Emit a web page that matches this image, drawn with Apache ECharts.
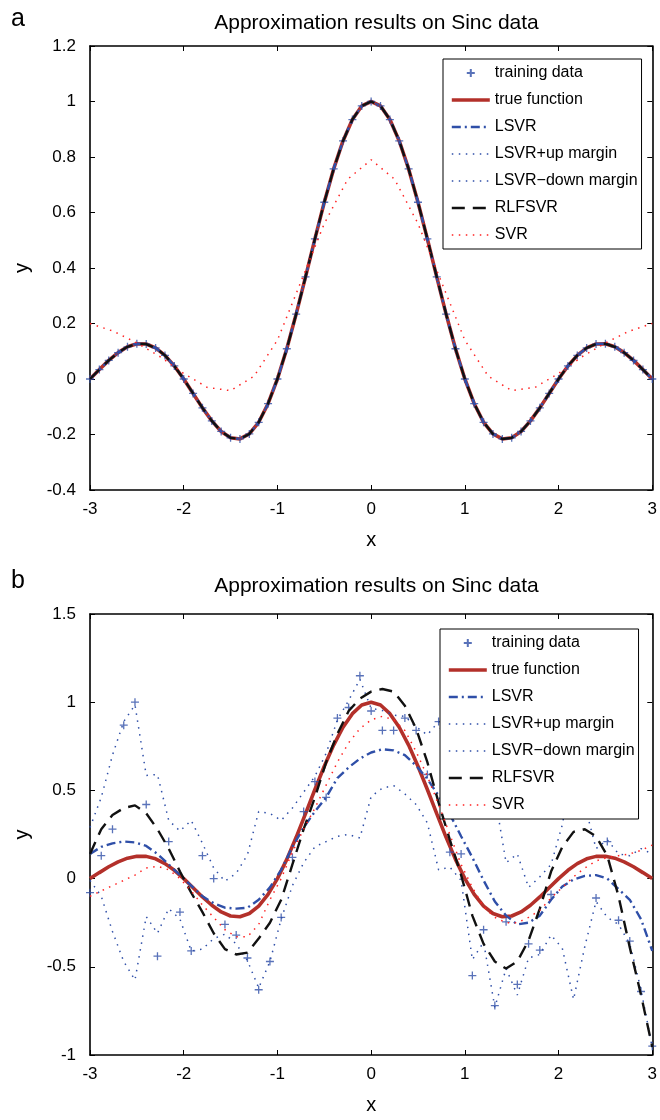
<!DOCTYPE html>
<html><head><meta charset="utf-8">
<script src="https://cdn.jsdelivr.net/npm/echarts@6/dist/echarts.min.js"></script>
<style>html,body{margin:0;padding:0;background:#fff;}#a,#b{width:660px;height:560px;}</style>
</head><body><div id="a"></div><div id="b"></div>
<script>
// ---------- data ----------
const xTicks = [-3, -2, -1, 0, 1, 2, 3];
const names = ['training data', 'true function', 'LSVR', 'LSVR+up margin', 'LSVR\u2212down margin', 'RLFSVR', 'SVR'];

// true function, sampled every 0.1 on [-3, 3]
const xA = [-3.0,-2.9,-2.8,-2.7,-2.6,-2.5,-2.4,-2.3,-2.2,-2.1,-2.0,-1.9,-1.8,-1.7,-1.6,-1.5,-1.4,-1.3,-1.2,-1.1,-1.0,-0.9,-0.8,-0.7,-0.6,-0.5,-0.4,-0.3,-0.2,-0.1,0.0,
  0.1,0.2,0.3,0.4,0.5,0.6,0.7,0.8,0.9,1.0,1.1,1.2,1.3,1.4,1.5,1.6,1.7,1.8,1.9,2.0,2.1,2.2,2.3,2.4,2.5,2.6,2.7,2.8,2.9,3.0];
const trueY = [0,0.034,0.067,0.095,0.116,0.127,0.126,0.112,0.085,0.047,0,-0.052,-0.104,-0.151,-0.189,-0.212,-0.216,-0.198,-0.156,-0.089,0,0.109,0.234,0.368,0.505,0.637,0.757,0.858,0.935,0.984,1,
  0.984,0.935,0.858,0.757,0.637,0.505,0.368,0.234,0.109,0,-0.089,-0.156,-0.198,-0.216,-0.212,-0.189,-0.151,-0.104,-0.052,0,0.047,0.085,0.112,0.126,0.127,0.116,0.095,0.067,0.034,0];

// panel a: training data, LSVR, margins and RLFSVR all lie on the true curve
const trainA = trueY;
const lsvrA = trueY;
const upA = trueY;
const downA = trueY;
const rlfA = trueY;
// panel a: SVR
const xSvrA = [-3,-2.75,-2.5,-2.25,-2,-1.75,-1.5,-1.25,-1,-0.75,-0.5,-0.25,0,0.25,0.5,0.75,1,1.25,1.5,1.75,2,2.25,2.5,2.75,3];
const svrA = [0.2,0.172,0.13,0.08,0.02,-0.03,-0.042,0.01,0.14,0.35,0.56,0.72,0.79,0.72,0.56,0.35,0.14,0.01,-0.042,-0.03,0.02,0.08,0.13,0.172,0.2];

// panel b: everything on the training grid
const xB = [-3,-2.88,-2.76,-2.64,-2.52,-2.4,-2.28,-2.16,-2.04,-1.92,-1.8,-1.68,-1.56,-1.44,-1.32,-1.2,-1.08,-0.96,-0.84,-0.72,-0.6,-0.48,-0.36,-0.24,-0.12,0,
  0.12,0.24,0.36,0.48,0.6,0.72,0.84,0.96,1.08,1.2,1.32,1.44,1.56,1.68,1.8,1.92,2.04,2.16,2.28,2.4,2.52,2.64,2.76,2.88,3];
const trainB = [-0.08,0.13,0.28,0.87,1.00,0.42,-0.44,0.21,-0.19,-0.41,0.13,0.00,-0.26,-0.32,-0.45,-0.63,-0.47,-0.22,0.12,0.38,0.55,0.46,0.91,0.97,1.15,0.95,
  0.84,0.84,0.91,0.84,0.59,0.89,0.15,0.14,-0.55,-0.29,-0.72,-0.245,-0.60,-0.37,-0.405,-0.09,0.45,0.5,0.4,-0.11,0.21,-0.236,-0.354,-0.64,-0.95];
const lsvrB = [0.14,0.18,0.20,0.21,0.205,0.185,0.14,0.08,0.02,-0.04,-0.10,-0.14,-0.165,-0.17,-0.165,-0.12,-0.05,0.05,0.18,0.29,0.38,0.46,0.57,0.63,0.68,0.715,
  0.733,0.727,0.70,0.64,0.565,0.47,0.365,0.24,0.12,-0.01,-0.13,-0.21,-0.26,-0.25,-0.21,-0.12,-0.045,-0.005,0.015,0.02,0.0,-0.06,-0.12,-0.23,-0.41];
const upB = [0.29,0.46,0.70,0.89,0.985,0.585,0.59,0.33,0.27,0.33,0.20,0.06,-0.015,0.03,0.135,0.38,0.37,0.33,0.40,0.49,0.58,0.71,0.90,1.01,1.13,0.965,
  0.953,0.927,0.92,0.86,0.815,0.89,0.665,0.49,0.70,0.34,0.47,0.09,0.14,-0.05,0.01,0.08,0.305,0.675,0.415,0.17,0.22,0.14,0.13,0.17,0.14];
const downB = [-0.01,-0.10,-0.30,-0.47,-0.575,-0.215,-0.31,-0.17,-0.23,-0.41,-0.40,-0.34,-0.315,-0.37,-0.465,-0.62,-0.47,-0.23,-0.04,0.09,0.18,0.21,0.24,0.25,0.23,0.465,
  0.513,0.527,0.48,0.42,0.315,0.05,0.065,-0.01,-0.46,-0.36,-0.73,-0.51,-0.66,-0.45,-0.43,-0.32,-0.395,-0.685,-0.385,-0.13,-0.22,-0.26,-0.37,-0.63,-0.96];
const rlfB = [0.14,0.28,0.36,0.40,0.415,0.37,0.28,0.17,0.04,-0.08,-0.19,-0.31,-0.40,-0.43,-0.42,-0.34,-0.25,-0.12,0.08,0.28,0.46,0.66,0.82,0.95,1.02,1.06,
  1.075,1.06,0.98,0.85,0.66,0.43,0.22,0.02,-0.21,-0.37,-0.47,-0.51,-0.47,-0.35,-0.17,0.04,0.18,0.265,0.28,0.24,0.13,-0.10,-0.39,-0.66,-0.955];
const svrB = [-0.10,-0.07,-0.04,-0.01,0.02,0.06,0.07,0.05,0.0,-0.07,-0.15,-0.22,-0.29,-0.33,-0.33,-0.26,-0.12,0.0,0.15,0.28,0.40,0.53,0.66,0.77,0.85,0.90,
  0.92,0.90,0.84,0.72,0.58,0.42,0.25,0.08,-0.05,-0.16,-0.22,-0.25,-0.25,-0.22,-0.18,-0.11,-0.05,0.01,0.06,0.10,0.12,0.13,0.14,0.16,0.19];

// ---------- styling ----------
const FONT = '"Liberation Sans", Arial, sans-serif';
const BLUE = '#2f4fa8', DARKRED = '#b3302a', RED = '#ff2222', BLACK = '#111111';
const PLUS = 'path://M4,0L4,8M0,4L8,4';
const zip = (xs, ys) => xs.map((x, i) => [x, ys[i]]);

function build(cfg) {
  const axisLine = { show: true, onZero: false, lineStyle: { color: '#000', width: 1.6 } };
  const tick = { show: true, inside: true, length: 5, lineStyle: { color: '#000', width: 1 } };
  const lbl = { color: '#000', fontSize: 17, fontFamily: FONT };
  const dot = (color) => ({ color, width: 1.5, type: [1.5, 5.5] });
  const line = (name, xs, ys, ls, z) => ({
    name, type: 'line', data: zip(xs, ys), symbol: 'none', showSymbol: false,
    lineStyle: ls, itemStyle: { color: ls.color }, z, silent: true, animation: false
  });
  const legendData = names.map((n, i) => i === 0 ? { name: n } : { name: n, itemStyle: { opacity: 0 } });
  return {
    animation: false,
    textStyle: { fontFamily: FONT },
    title: [
      { text: cfg.panel, left: 6, top: cfg.panelTop, textStyle: { fontSize: 25, fontWeight: 'normal', color: '#000', fontFamily: FONT } },
      { text: 'Approximation results on Sinc data', left: 371.5, textAlign: 'center', top: cfg.titleTop,
        textStyle: { fontSize: 21, fontWeight: 'normal', color: '#000', fontFamily: FONT } }
    ],
    grid: { left: 90, right: 7, top: cfg.gridTop, height: 444, containLabel: false },
    legend: {
      orient: 'vertical', left: cfg.legLeft, top: cfg.legTop,
      padding: [6, 4, 6, 7], itemGap: 11, itemWidth: 38, itemHeight: 8,
      backgroundColor: '#fff', borderColor: '#000', borderWidth: 1, borderRadius: 0,
      lineStyle: { width: 'inherit', type: 'inherit' },
      textStyle: { fontSize: 16, color: '#000', fontFamily: FONT, lineHeight: 16 },
      data: legendData, selectedMode: false
    },
    xAxis: [
      { type: 'value', min: -3, max: 3, interval: 1, position: 'bottom', axisLine, axisTick: tick,
        axisLabel: Object.assign({ margin: 11 }, lbl), splitLine: { show: false },
        name: 'x', nameLocation: 'middle', nameGap: 40, nameTextStyle: { fontSize: 20, color: '#000', fontFamily: FONT } },
      { type: 'value', min: -3, max: 3, interval: 1, position: 'top', axisLine, axisTick: tick,
        axisLabel: { show: false }, splitLine: { show: false } }
    ],
    yAxis: [
      { type: 'value', min: cfg.ymin, max: cfg.ymax, interval: cfg.yint, position: 'left', axisLine, axisTick: tick,
        axisLabel: Object.assign({ margin: 14, formatter: v => String(+v.toFixed(1)) }, lbl), splitLine: { show: false },
        name: 'y', nameLocation: 'middle', nameGap: 58, nameRotate: 90, nameTextStyle: { fontSize: 20, color: '#000', fontFamily: FONT } },
      { type: 'value', min: cfg.ymin, max: cfg.ymax, interval: cfg.yint, position: 'right', axisLine, axisTick: tick,
        axisLabel: { show: false }, splitLine: { show: false } }
    ],
    series: [
      { name: names[0], type: 'scatter', data: zip(cfg.trainX, cfg.train), symbol: PLUS, symbolSize: 8,
        itemStyle: { color: BLUE, borderColor: BLUE, borderWidth: 1.3 }, z: 3, silent: true },
      line(names[1], xA, trueY, { color: DARKRED, width: 3.6 }, 2),
      line(names[2], cfg.lx, cfg.lsvr, { color: BLUE, width: 2.4, type: [9, 4, 2, 4] }, 3),
      line(names[3], cfg.lx, cfg.up, dot(BLUE), 2),
      line(names[4], cfg.lx, cfg.down, dot(BLUE), 2),
      line(names[5], cfg.lx, cfg.rlf, { color: BLACK, width: 2.4, type: [13, 8] }, 4),
      line(names[6], cfg.sx, cfg.svr, dot(RED), 4)
    ]
  };
}

const chartA = echarts.init(document.getElementById('a'), null, { renderer: 'canvas' });
chartA.setOption(build({
  panel: 'a', panelTop: 2, titleTop: 8, gridTop: 46, legLeft: 443, legTop: 59,
  ymin: -0.4, ymax: 1.2, yint: 0.2,
  trainX: xA, train: trainA, lx: xA, lsvr: lsvrA, up: upA, down: downA, rlf: rlfA,
  sx: xSvrA, svr: svrA
}));
const chartB = echarts.init(document.getElementById('b'), null, { renderer: 'canvas' });
chartB.setOption(build({
  panel: 'b', panelTop: 4, titleTop: 11, gridTop: 54, legLeft: 440, legTop: 69,
  ymin: -1, ymax: 1.5, yint: 0.5,
  trainX: xB, train: trainB, lx: xB, lsvr: lsvrB, up: upB, down: downB, rlf: rlfB,
  sx: xB, svr: svrB
}));
</script></body></html>
